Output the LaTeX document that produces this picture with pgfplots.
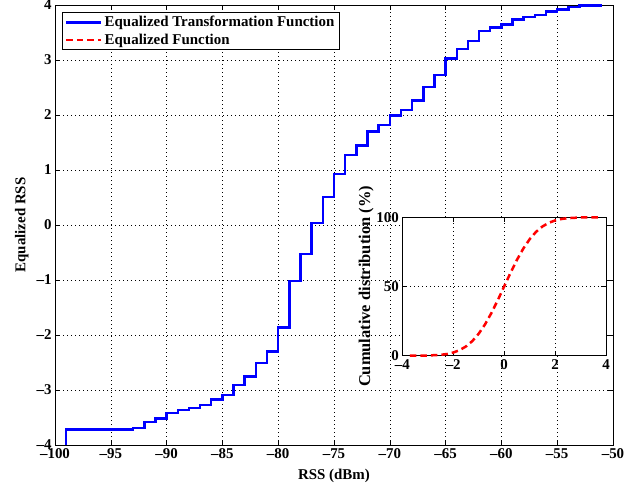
\documentclass[border=0pt]{standalone}
\usepackage{fontspec}
\setmainfont{Liberation Serif}
\usepackage{pgfplots}
\pgfplotsset{compat=1.18}

\newcommand{\lblfont}{\bfseries\fontsize{15}{17.5}\selectfont}
\newcommand{\tl}[1]{\textbf{#1}}

\pgfplotsset{
  matlabgrid/.style={
    scale only axis,
    clip=false,
    axis line style={line width=0.8bp},
    tick align=inside,
    tick pos=both,
    major tick length=5bp,
    major tick style={line width=0.6bp, black},
    grid=major,
    major grid style={black, line width=0.6bp, dash pattern=on 0.8bp off 3.2bp},
    tick label style={font=\lblfont},
    label style={font=\lblfont},
    /pgf/number format/assume math mode=true,
  }
}

\begin{document}
\begin{tikzpicture}
\path[use as bounding box] (-55bp,-42bp) rectangle (586bp,445bp);

% main axis: equalized transformation (staircase)
\begin{axis}[
  matlabgrid,
  at={(0,0)}, anchor=south west,
  width=558bp, height=440bp,
  xmin=-100, xmax=-50, ymin=-4, ymax=4,
  xtick={-100,-95,...,-50},
  xticklabels={\tl{--100},\tl{--95},\tl{--90},\tl{--85},\tl{--80},\tl{--75},
    \tl{--70},\tl{--65},\tl{--60},\tl{--55},\tl{--50}},
  ytick={-4,-3,...,4},
  yticklabels={\tl{--4},\tl{--3},\tl{--2},\tl{--1},\tl{0},\tl{1},\tl{2},\tl{3},\tl{4}},
  xlabel={RSS (dBm)},
  ylabel={Equalized RSS},
  xlabel style={at={(axis description cs:0.5,-0.0705)}, anchor=center},
  ylabel style={at={(axis description cs:-0.0597,0.5)}, anchor=center},
  legend style={at={(0.0122,0.984)}, anchor=north west, draw=black,
    line width=0.8bp, font=\lblfont, inner xsep=3bp, inner ysep=2bp,
    row sep=1.5bp},
  legend cell align=left,
  legend image code/.code={\draw[#1] (0bp,0bp) -- (35bp,0bp);},
]
\addplot[const plot, blue, line width=2.5bp] coordinates {
  (-99,-4.0) (-99,-3.72) (-93,-3.69) (-92,-3.58) (-91,-3.52) (-90,-3.42)
  (-89,-3.36) (-88,-3.33) (-87,-3.27) (-86,-3.17) (-85,-3.09) (-84,-2.91)
  (-83,-2.75) (-82,-2.51) (-81,-2.30) (-80,-1.86) (-79,-1.02) (-78,-0.53)
  (-77,0.04) (-76,0.51) (-75,0.93) (-74,1.27) (-73,1.45) (-72,1.70)
  (-71,1.82) (-70,1.99) (-69,2.09) (-68,2.26) (-67,2.51) (-66,2.73)
  (-65,3.03) (-64,3.20) (-63,3.35) (-62,3.53) (-61,3.59) (-60,3.65)
  (-59,3.74) (-58,3.78) (-57,3.82) (-56,3.88) (-55,3.92) (-54,3.96)
  (-53,3.99) (-51,3.99)
};
\addlegendentry{Equalized Transformation Function}
\addlegendimage{red, line width=2.5bp, dash pattern=on 6.5bp off 4bp}
\addlegendentry{Equalized Function}
\end{axis}

% inset: cumulative distribution of the equalized values
\begin{axis}[
  matlabgrid,
  at={(347.3bp,89.3bp)}, anchor=south west,
  width=203.7bp, height=138.4bp,
  axis background/.style={fill=white},
  xmin=-4, xmax=4, ymin=0, ymax=100,
  xtick={-4,-2,...,4},
  xticklabels={\tl{--4},\tl{--2},\tl{0},\tl{2},\tl{4}},
  ytick={0,50,100},
  yticklabels={\tl{0},\tl{50},\tl{100}},
  ylabel={Cumulative distribution (\%)},
  ylabel style={at={(axis description cs:-0.178,0.5)}, anchor=center,
    font=\bfseries\fontsize{16.5}{19}\selectfont},
]
\addplot[red, line width=2.5bp, dash pattern=on 6.5bp off 4bp] coordinates {
  (-3.7,0.01) (-3.5,0.02) (-3.0,0.13) (-2.5,0.62) (-2.25,1.22) (-2.0,2.28)
  (-1.75,4.01) (-1.5,6.68) (-1.25,10.56) (-1.0,15.87) (-0.75,22.66)
  (-0.5,30.85) (-0.25,40.13) (0,50.0) (0.25,59.87) (0.5,69.15)
  (0.75,77.34) (1.0,84.13) (1.25,89.44) (1.5,93.32) (1.75,95.99)
  (2.0,97.72) (2.25,98.78) (2.5,99.38) (3.0,99.87) (3.5,99.98) (3.7,99.99)
};
\end{axis}
\end{tikzpicture}
\end{document}
